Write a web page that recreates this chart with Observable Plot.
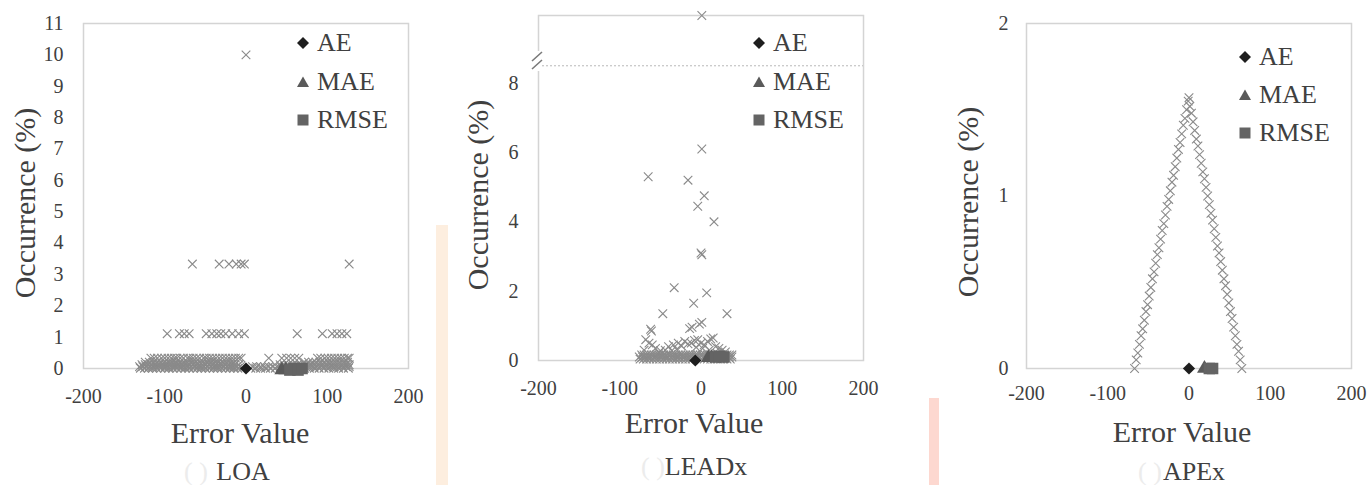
<!DOCTYPE html>
<html><head><meta charset="utf-8">
<script src="https://cdn.jsdelivr.net/npm/d3@7"></script>
<script src="https://cdn.jsdelivr.net/npm/@observablehq/plot@0.6"></script>
<style>
html,body{margin:0;padding:0;background:#fff}
body{width:1372px;height:485px;overflow:hidden;position:relative;font-family:'Liberation Serif',serif;color:#404040}
.pl{position:absolute;top:0}
.t{position:absolute;white-space:nowrap;transform:translate(-50%,-50%);font-size:30px;line-height:1}
.ty{transform:translate(-50%,-50%) rotate(-90deg)}
.cap{font-size:26px}
.faint{color:#ececec;font-size:26px}
.lg{position:absolute;font-size:26px;height:38px;line-height:38px;white-space:nowrap}
.mk{position:absolute;width:14px;height:14px}
.mk svg{display:block}
.strip{position:absolute}
</style></head><body>
<script>
const SERIF = "'Liberation Serif', 'Times New Roman', Tinos, serif";

// ---------- shared ----------
const xTicks = [-200, -100, 0, 100, 200];
const metricNames = ["AE", "MAE", "RMSE"];

// ---------- (a) LOA ----------
const loaYTicks = [0, 1, 2, 3, 4, 5, 6, 7, 8, 9, 10, 11];
const loaLevels = [10, 3.33, 1.11, 0.33, 0.2, 0.12, 0.06, 0.01];
const loaLevelX = [
  [0],
  [-66, -33, -21, -12, -6, -2, 127],
  [-97, -82, -76, -70, -49, -42, -36, -31, -25, -17, -9, -2, 63, 94, 106, 112, 118, 124],
  [-117, -113, -109, -104, -100, -96, -92, -88, -85, -81, -77, -72, -69, -65, -61, -57, -52, -49, -45, -41, -37, -33, -29, -25, -21, -17, -13, -9, -6, 28, 44, 50, 55, 60, 65, 88, 92, 97, 101, 105, 109, 113, 117, 121, 125, 127],
  [-124, -119, -114, -110, -105, -100, -95, -91, -86, -81, -76, -72, -67, -62, -57, -53, -48, -43, -38, -34, -29, -24, -19, -15, 72, 77, 82, 86, 91, 96, 101, 105, 110, 115, 120, 125],
  [-128, -124, -120, -116, -112, -107, -103, -99, -95, -91, -87, -83, -79, -75, -71, -66, -62, -58, -54, -50, -46, -42, -38, -34, -30, -26, -22, -18, -14, -9, 42, 47, 52, 58, 63, 68, 73, 78, 83, 88, 93, 98, 103, 108, 113, 118, 123, 127],
  [-131, -127, -123, -119, -115, -111, -107, -103, -99, -95, -91, -87, -83, -79, -75, -71, -67, -63, -59, -55, -51, -47, -43, -39, -35, -31, -27, -23, -19, -15, -11, -7, 8, 13, 18, 23, 28, 33, 38, 43, 48, 53, 58, 63, 68, 73, 78, 83, 88, 93, 98, 103, 108, 113, 118, 123, 127],
  [-130, -125, -120, -115, -110, -105, -100, -95, -90, -85, -80, -75, -70, -65, -60, -55, -50, -45, -40, -35, -30, -25, -20, -15, -10, -5, 6, 12, 18, 24, 30, 36, 42, 48, 54, 60, 66, 72, 78, 84, 90, 96, 102, 108, 114, 120, 126]
];
const loaAE_X = [0], loaAE_Y = [0];
const loaMAE_X = [44, 49], loaMAE_Y = [-0.05, -0.05];
const loaRMSE_X = [54, 59, 64, 69], loaRMSE_Y = [-0.05, 0, -0.05, 0];

// ---------- (b) LEADx (broken y axis) ----------
const leadYTicks = [0, 2, 4, 6, 8, 40];
const leadBreak = [8.5];
const leadTop = [40];
const leadX = [1, 1, -65, -16, 4, -4, 16, 0, 1, -33, 7, -9, -47, 32, -62, -61, -14, -11, -2, 1,
  -68, -64, -60, -56, -40, -34, -28, -24, -20, -16, -12, -8, -4, 0, 4, 8, 12, 15, 18, 22, -44, -50, 26, 30, -30, -36, 2, -6, -70, -52, 10, 20];
const leadY = [40, 6.1, 5.3, 5.2, 4.75, 4.45, 4.0, 3.1, 3.05, 2.1, 1.95, 1.65, 1.35, 1.35, 0.9, 0.85, 0.92, 0.96, 1.05, 1.1,
  0.6, 0.5, 0.45, 0.35, 0.4, 0.45, 0.5, 0.42, 0.55, 0.48, 0.5, 0.58, 0.6, 0.5, 0.45, 0.55, 0.62, 0.65, 0.4, 0.35, 0.3, 0.28, 0.3, 0.25, 0.32, 0.28, 0.35, 0.38, 0.3, 0.22, 0.3, 0.2];
const leadLevels = [0.16, 0.1, 0.04];
const leadLevelX = [
  [-73, -70, -67, -64, -61, -58, -55, -52, -49, -46, -43, -40, -37, -34, -31, -28, -25, -22, -19, -16, -13, -10, -7, -4, -1, 2, 5, 8, 11, 14, 17, 20, 23, 26, 29, 32, 35, 38],
  [-76, -72, -69, -65, -62, -58, -55, -51, -48, -44, -41, -37, -34, -30, -27, -23, -20, -16, -13, -9, -6, -2, 3, 7, 10, 14, 17, 21, 24, 28, 31, 35, 38],
  [-75, -71, -67, -63, -59, -55, -51, -47, -43, -39, -35, -31, -27, -23, -19, -15, -11, 4, 8, 12, 16, 20, 24, 28, 32, 36]
];
const leadAE_X = [-7], leadAE_Y = [0];
const leadMAE_X = [9, 13], leadMAE_Y = [0.08, 0.08];
const leadRMSE_X = [18, 23, 28], leadRMSE_Y = [0.1, 0.12, 0.1];

// ---------- (c) APEx ----------
const apexYTicks = [0, 1, 2];
const apexLeftX = [-67, -65, -63, -61, -59, -57, -55, -53, -51, -49, -47, -45, -43, -41, -39, -37, -35, -33, -31, -29, -27, -25, -23, -21, -19, -17, -15, -13, -11, -9, -7, -5, -3, -1];
const apexLeftY = [0.00, 0.05, 0.09, 0.14, 0.19, 0.23, 0.28, 0.33, 0.37, 0.42, 0.47, 0.52, 0.56, 0.61, 0.66, 0.70, 0.75, 0.80, 0.84, 0.89, 0.94, 0.98, 1.03, 1.08, 1.12, 1.17, 1.22, 1.27, 1.31, 1.36, 1.41, 1.45, 1.50, 1.55];
const apexRightX = [65, 63, 61, 59, 57, 55, 53, 51, 49, 47, 45, 43, 41, 39, 37, 35, 33, 31, 29, 27, 25, 23, 21, 19, 17, 15, 13, 11, 9, 7, 5, 3, 1, 0];
const apexRightY = [0.00, 0.05, 0.10, 0.14, 0.19, 0.24, 0.29, 0.33, 0.38, 0.43, 0.48, 0.52, 0.57, 0.62, 0.67, 0.71, 0.76, 0.81, 0.86, 0.90, 0.95, 1.00, 1.05, 1.10, 1.14, 1.19, 1.24, 1.29, 1.33, 1.38, 1.43, 1.48, 1.52, 1.57];
const apexAE_X = [0], apexAE_Y = [0];
const apexMAE_X = [19], apexMAE_Y = [0];
const apexRMSE_X = [25, 29], apexRMSE_Y = [0, 0];

// ---------- helpers ----------
const zip = (xs, ys) => xs.map((x, i) => ({x, y: ys[i]}));
const levels = (lv, xs) => lv.flatMap((y, i) => xs[i].map(x => ({x, y})));

// compress values above the axis break into a short top segment
const brk = leadBreak[0];
const topSpan = 1.45;
const breakTransform = v => v > brk ? brk + topSpan * (v - brk) / (leadTop[0] - brk) : v;

const panels = [
  {
    left: 0, width: 440, height: 420, mL: 83, mR: 32, mT: 23, mB: 52,
    y: {domain: [0, 11]}, yTicks: loaYTicks, xPad: 20, yPad: 20,
    pts: levels(loaLevels, loaLevelX),
    ae: zip(loaAE_X, loaAE_Y), mae: zip(loaMAE_X, loaMAE_Y), rmse: zip(loaRMSE_X, loaRMSE_Y),
    cap: "LOA", capX: 243, capY: 472, faintX: 196,
    xt: [240, 433], yt: [25, 203], lg: [303, 43, 38.5]
  },
  {
    left: 440, width: 460, height: 420, mL: 98, mR: 37, mT: 15, mB: 60,
    y: {domain: [0, brk + topSpan], transform: breakTransform}, yTicks: leadYTicks, xPad: 20, yPad: 20,
    pts: zip(leadX, leadY).concat(levels(leadLevels, leadLevelX)),
    ae: zip(leadAE_X, leadAE_Y), mae: zip(leadMAE_X, leadMAE_Y), rmse: zip(leadRMSE_X, leadRMSE_Y),
    brk: leadBreak,
    cap: "LEADx", capX: 706, capY: 467, faintX: 653,
    xt: [694, 423], yt: [478, 195], lg: [759, 43, 38.5]
  },
  {
    left: 900, width: 472, height: 420, mL: 126, mR: 21, mT: 23, mB: 52,
    y: {domain: [0, 2]}, yTicks: apexYTicks, xPad: 17, yPad: 18,
    pts: zip(apexLeftX, apexLeftY).concat(zip(apexRightX, apexRightY)),
    ae: zip(apexAE_X, apexAE_Y), mae: zip(apexMAE_X, apexMAE_Y), rmse: zip(apexRMSE_X, apexRMSE_Y),
    cap: "APEx", capX: 1194, capY: 472, faintX: 1150,
    xt: [1182, 432], yt: [968, 202], lg: [1245, 57, 38]
  }
];

function strip(l, t, w, h, c) {
  const d = document.createElement("div");
  d.className = "strip";
  Object.assign(d.style, {left: l + "px", top: t + "px", width: w + "px", height: h + "px", background: c});
  document.body.appendChild(d);
}
strip(436, 225, 12, 260, "#fdeedf");
strip(929, 398, 10, 87, "#fdd8d0");

function addText(txt, x, y, cls) {
  const d = document.createElement("div");
  d.className = "t " + (cls || "");
  d.style.left = x + "px"; d.style.top = y + "px";
  d.style.fontFamily = SERIF;
  d.textContent = txt;
  document.body.appendChild(d);
}

const markerSvg = {
  AE: '<svg width="14" height="14" viewBox="-7 -7 14 14"><path d="M0,-6L6,0L0,6L-6,0Z" fill="#1e1e1e"/></svg>',
  MAE: '<svg width="14" height="14" viewBox="-7 -7 14 14"><path d="M0,-5.5L6,5L-6,5Z" fill="#5a5a5a"/></svg>',
  RMSE: '<svg width="14" height="14" viewBox="-7 -7 14 14"><rect x="-5.5" y="-5.5" width="11" height="11" fill="#646464"/></svg>'
};

for (const p of panels) {
  const marks = [
    Plot.frame({stroke: "#d4d4d4", strokeWidth: 1.5}),
    Plot.axisX({ticks: xTicks, tickSize: 0, tickPadding: p.xPad, label: null, fontSize: 20, fontFamily: SERIF, tickFormat: d => String(d)}),
    Plot.axisY({ticks: p.yTicks, tickSize: 0, tickPadding: p.yPad, label: null, fontSize: 20, fontFamily: SERIF, tickFormat: d => String(d)}),
  ];
  if (p.brk) marks.push(Plot.ruleY(p.brk, {stroke: "#b8b8b8", strokeWidth: 1, strokeDasharray: "2,2"}));
  marks.push(
    Plot.dot(p.pts, {x: "x", y: "y", symbol: "times", r: 4, stroke: "#8a8a8a", strokeWidth: 1.1}),
    Plot.dot(p.mae, {x: "x", y: "y", symbol: "triangle", r: 5.5, fill: "#5a5a5a"}),
    Plot.dot(p.rmse, {x: "x", y: "y", symbol: "square", r: 6.5, fill: "#646464"}),
    Plot.dot(p.ae, {x: "x", y: "y", symbol: "diamond2", r: 5.5, fill: "#1e1e1e"})
  );
  const chart = Plot.plot({
    width: p.width, height: p.height,
    marginLeft: p.mL, marginRight: p.mR, marginTop: p.mT, marginBottom: p.mB,
    x: {domain: [-200, 200]},
    y: p.y,
    style: {fontFamily: SERIF, color: "#404040", background: "transparent", overflow: "visible"},
    marks
  });
  const wrap = document.createElement("div");
  wrap.className = "pl";
  wrap.style.left = p.left + "px";
  wrap.appendChild(chart);
  document.body.appendChild(wrap);

  if (p.brk) {
    const b = document.createElement("div");
    b.className = "pl";
    b.style.left = (p.left + p.mL - 8) + "px";
    b.style.top = "49px";
    b.innerHTML = '<svg width="16" height="24"><rect x="4" y="2" width="8" height="20" fill="#fff"/><path d="M2,12L12,3M2,20L12,11" stroke="#7a7a7a" stroke-width="1.6"/></svg>';
    document.body.appendChild(b);
  }

  addText("Error Value", p.xt[0], p.xt[1]);
  addText("Occurrence (%)", p.yt[0], p.yt[1], "ty");
  addText(p.cap, p.capX, p.capY, "cap");
  addText("( )", p.faintX, p.capY, "faint");

  metricNames.forEach((name, i) => {
    const yc = p.lg[1] + i * p.lg[2];
    const m = document.createElement("div");
    m.className = "mk";
    m.style.left = (p.lg[0] - 7) + "px";
    m.style.top = (yc - 7) + "px";
    m.innerHTML = markerSvg[name];
    document.body.appendChild(m);
    const d = document.createElement("div");
    d.className = "lg";
    d.style.left = (p.lg[0] + 14) + "px";
    d.style.top = (yc - 19) + "px";
    d.style.fontFamily = SERIF;
    d.textContent = name;
    document.body.appendChild(d);
  });
}
</script>
</body></html>
